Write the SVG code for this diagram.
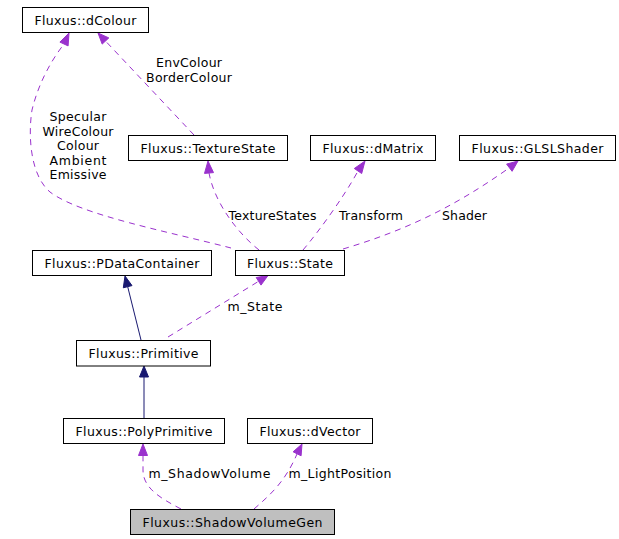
<svg xmlns="http://www.w3.org/2000/svg" width="619" height="539" viewBox="0 0 619 539">
<style>
.box{fill:#ffffff;stroke:#000000;stroke-width:1}
.hl{fill:#bfbfbf}
text{font-family:"DejaVu Sans","Liberation Sans",sans-serif;font-size:12.5px;fill:#000000;text-anchor:middle}
.d{fill:none;stroke:#9a32cd;stroke-width:1;stroke-dasharray:6,5}
.s{fill:none;stroke:#191970;stroke-width:1}
.ah{fill:#9a32cd;stroke:#9a32cd}
.an{fill:#191970;stroke:#191970}
</style>
<rect width="619" height="539" fill="#ffffff"/>
<g id="edges">
<path class="d" d="M231,248 C170,232 80,215 50,192 C30,175 28,135 32,110 C38,85 50,62 64,44"/>
<polygon class="ah" points="69,33 68.1,45.9 59.9,42.1"/>
<path class="d" d="M194,135 L105.5,41"/>
<polygon class="ah" points="98,33 108.8,37.9 102.2,44.1"/>
<path class="d" d="M259,250 C240,235 215,205 209,173"/>
<polygon class="ah" points="208,161 213.5,172.6 204.5,173.4"/>
<path class="d" d="M303,250 C320,230 345,195 358,171"/>
<polygon class="ah" points="365,161 361.7,173.5 354.3,168.5"/>
<path class="d" d="M343,249 C400,232 450,210 509,168"/>
<polygon class="ah" points="518,161 512.1,171.3 506.6,164.1"/>
<path class="s" d="M141,340 L127.7,286.7"/>
<polygon class="an" points="125,276 132,285.6 123.3,287.8"/>
<path class="d" d="M168,337 L258.6,281.3"/>
<polygon class="ah" points="268,275.5 261,285.1 256.2,277.5"/>
<path class="s" d="M144,418 L144,377"/>
<polygon class="an" points="144,366 148.5,377 139.5,377"/>
<path class="d" d="M181,509 C160,498 143,488 143,470 L143,456"/>
<polygon class="ah" points="143,444 147.5,455.5 138.5,455.5"/>
<path class="d" d="M254,509 C270,495 285,482 297,454"/>
<polygon class="ah" points="302,444 301.1,455.8 293.1,451.8"/>
<g id="edge-labels">
<text x="78" y="121" textLength="57" lengthAdjust="spacing">Specular</text>
<text x="78" y="135.5" textLength="71" lengthAdjust="spacing">WireColour</text>
<text x="78" y="150" textLength="42" lengthAdjust="spacing">Colour</text>
<text x="78" y="164.5" textLength="57" lengthAdjust="spacing">Ambient</text>
<text x="78" y="179" textLength="57" lengthAdjust="spacing">Emissive</text>
<text x="189" y="67" textLength="66" lengthAdjust="spacing">EnvColour</text>
<text x="189" y="82" textLength="86" lengthAdjust="spacing">BorderColour</text>
<text x="272.5" y="220" textLength="88" lengthAdjust="spacing">TextureStates</text>
<text x="371" y="220" textLength="64" lengthAdjust="spacing">Transform</text>
<text x="464.5" y="220" textLength="45" lengthAdjust="spacing">Shader</text>
<text x="255" y="311" textLength="55" lengthAdjust="spacing">m_State</text>
<text x="209.5" y="478" textLength="122" lengthAdjust="spacing">m_ShadowVolume</text>
<text x="340" y="478" textLength="103" lengthAdjust="spacing">m_LightPosition</text>
</g>
</g>
<g id="dColour"><rect class="box" x="22.5" y="7.5" width="126" height="25"/><text x="85.5" y="24.5" textLength="102" lengthAdjust="spacing">Fluxus::dColour</text></g>
<g id="TextureState"><rect class="box" x="128.5" y="135.5" width="159" height="25"/><text x="208" y="152.5" textLength="135" lengthAdjust="spacing">Fluxus::TextureState</text></g>
<g id="dMatrix"><rect class="box" x="310.5" y="135.5" width="125" height="25"/><text x="373" y="152.5" textLength="101" lengthAdjust="spacing">Fluxus::dMatrix</text></g>
<g id="GLSLShader"><rect class="box" x="459.5" y="135.5" width="156" height="25"/><text x="537.5" y="152.5" textLength="132" lengthAdjust="spacing">Fluxus::GLSLShader</text></g>
<g id="PDataContainer"><rect class="box" x="32.5" y="250.5" width="179" height="25"/><text x="122" y="267.5" textLength="155" lengthAdjust="spacing">Fluxus::PDataContainer</text></g>
<g id="State"><rect class="box" x="235.5" y="250.5" width="109" height="25"/><text x="290" y="267.5" textLength="86" lengthAdjust="spacing">Fluxus::State</text></g>
<g id="Primitive"><rect class="box" x="76.5" y="340.5" width="134" height="25.5"/><text x="143.5" y="357.5" textLength="110" lengthAdjust="spacing">Fluxus::Primitive</text></g>
<g id="PolyPrimitive"><rect class="box" x="63.5" y="418.5" width="161" height="25"/><text x="144" y="435.5" textLength="137" lengthAdjust="spacing">Fluxus::PolyPrimitive</text></g>
<g id="dVector"><rect class="box" x="247.5" y="418.5" width="125" height="25"/><text x="310" y="435.5" textLength="101" lengthAdjust="spacing">Fluxus::dVector</text></g>
<g id="ShadowVolumeGen"><rect class="box hl" x="130.5" y="509.5" width="204" height="25"/><text x="232.5" y="526.5" textLength="180" lengthAdjust="spacing">Fluxus::ShadowVolumeGen</text></g>
</svg>
